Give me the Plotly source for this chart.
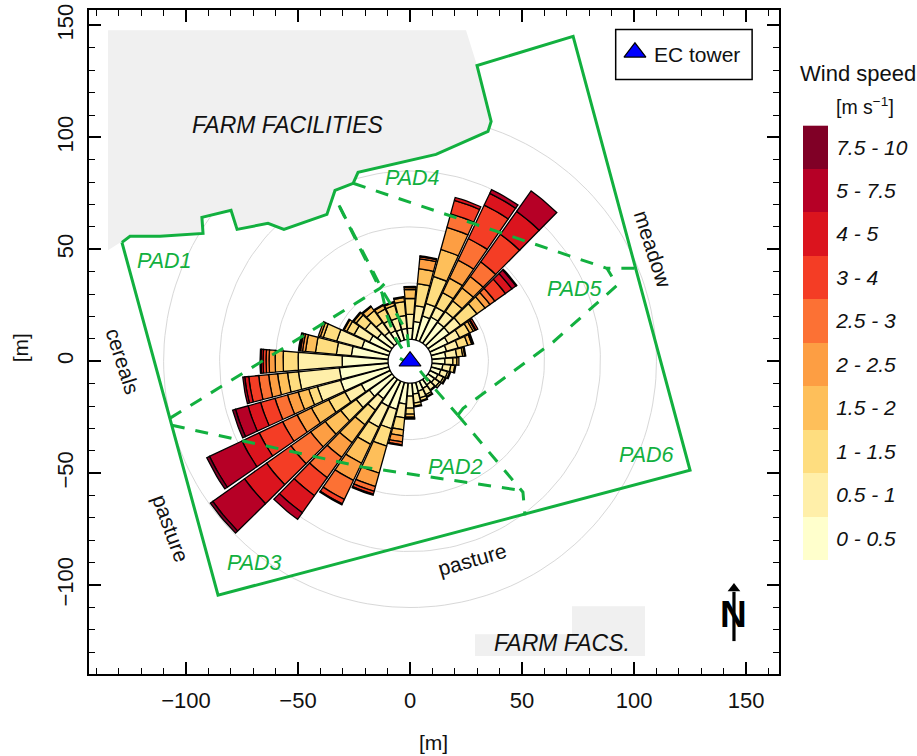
import numpy as np
import plotly.graph_objects as go

# ---------- data ----------
speed_classes = ["0 - 0.5", "0.5 - 1", "1 - 1.5", "1.5 - 2", "2 - 2.5", "2.5 - 3", "3 - 4", "4 - 5", "5 - 7.5", "7.5 - 10"]
class_colors = ["#FFFFCC", "#FFEFA9", "#FEDD7F", "#FEBF5A", "#FD9E43", "#FC7134", "#F43D25", "#DB141E", "#B60026", "#800026"]

# cumulative outer edge of every speed class, per wind direction (rose units, hole edge = 22)
d000 = [33, 47, 63, 72, 74, 75]
d010 = [40, 56, 78, 93, 103, 105, 106]
d020 = [47, 60, 88, 116, 139, 153, 167, 170]
d030 = [49, 60, 76, 92, 112, 136, 173, 186, 190]
d040 = [48, 61, 74, 90, 104, 122, 156, 184, 209]
d050 = [48, 62, 82, 92, 98, 104, 117, 125, 130, 131]
d060 = [42, 55, 66, 70, 72, 73, 75]
d070 = [38, 50, 60, 64, 65, 66]
d080 = [36, 47, 53, 55, 56]
d090 = [35, 43, 47, 49]
d100 = [33, 41, 45, 46]
d110 = [32, 39, 41, 42]
d120 = [31, 37, 39, 40]
d130 = [30, 36, 38]
d140 = [29, 35, 36]
d150 = [30, 37, 39, 40]
d160 = [31, 38, 41, 42]
d170 = [33, 42, 45, 46]
d180 = [35, 47, 53, 56, 57, 58]
d190 = [43, 57, 69, 75, 81, 84, 85]
d200 = [50, 70, 88, 116, 130, 135, 138, 139]
d210 = [50, 73, 92, 113, 132, 153, 158, 159]
d220 = [46, 60, 78, 100, 118, 143, 165, 186, 194]
d230 = [50, 66, 85, 104, 122, 146, 176, 203, 242, 245]
d240 = [54, 72, 90, 109, 125, 141, 167, 186, 222, 225]
d250 = [72, 96, 105, 116, 127, 140, 155, 168, 181, 184]
d260 = [71, 112, 123, 133, 142, 152, 162, 166, 168]
d270 = [68, 112, 127, 135, 141, 144, 147, 149, 150]
d280 = [59, 74, 95, 105, 108, 110, 111, 112]
d290 = [50, 76, 90, 93, 95]
d300 = [45, 62, 70, 73, 74]
d310 = [40, 55, 66, 69, 70]
d320 = [36, 48, 62, 67, 68]
d330 = [34, 46, 58, 62, 63]
d340 = [33, 45, 58, 61, 62]
d350 = [33, 46, 60, 64, 65]
directions = list(range(0, 360, 10))
rose = [d000, d010, d020, d030, d040, d050, d060, d070, d080, d090, d100, d110,
        d120, d130, d140, d150, d160, d170, d180, d190, d200, d210, d220, d230,
        d240, d250, d260, d270, d280, d290, d300, d310, d320, d330, d340, d350]
rose_hole = 22
rose_unit_m = 1 / 2.24
sector_width = 9.2
grid_radii_m = [35, 60, 85, 110]

farm_x = [-134.8, 25, 29.9, 36.2, 34.8, 11.6, -23.2, -25.4, -33.5, -37.1, -56.3, -63.4, -77.2, -79.9, -92.9, -92.4, -125, -134.8]
farm_y = [147.8, 147.8, 132.1, 107.1, 102.7, 92.4, 84.4, 79.5, 76.3, 65.6, 58.9, 61.6, 58.9, 67.4, 64.3, 57.1, 55.8, 49.6]
facs_x = [29, 72.3, 72.3, 104.9, 104.9, 29]
facs_y = [-121.9, -121.9, -109.4, -109.4, -131.7, -131.7]

site_x = [-128.6, -125, -111.6, -92.4, -92.9, -79.9, -77.2, -63.4, -56.3, -37.1, -33.5, -25.4, -23.2, 11.6, 34.8, 36.2, 29.9, 72.8, 125, -85.7, -128.6]
site_y = [53.1, 55.8, 55.8, 57.1, 64.3, 67.4, 58.9, 61.6, 58.9, 65.6, 76.3, 79.5, 84.4, 92.4, 102.7, 107.1, 132.1, 145.1, -48.7, -104.5, 53.1]

pad_lines = [
    ([-31.7, -12.5, -10.3, -6.7, 0], [69.6, 30.4, 20.5, 10.7, 0]),
    ([-31.3, -11.6, -6.7, -1.3, 0], [68.8, 30.4, 22.3, 12.9, 0]),
    ([-4.5, 3.6, 8.9, 21.4], [1.3, -3.1, -9.8, -24.1]),
    ([21.4, 23.7, 63.8, 92.4, 87.9, 100.4], [-24.1, -21, 8.5, 33.9, 41.5, 41.5]),
    ([-25.4, 87.9], [79.5, 41.5]),
    ([-107.1, -13.4, -11.2], [-25.4, 32.6, 34.8]),
    ([-106.3, -21, 49.1], [-28.6, -47.3, -57.6]),
    ([21.4, 50.4, 51.3], [-24.1, -58.5, -68.8]),
]

pad_labels = [("PAD1", -109.4, 44.6), ("PAD2", 20.5, -47.3), ("PAD3", -69.6, -90.2),
              ("PAD4", 0.9, 81.7), ("PAD5", 73.7, 32.1), ("PAD6", 105.4, -42)]
land_labels = [("meadow", 108.5, 50, 72), ("cereals", -128.1, 0, 72),
               ("pasture", -106.7, -74.6, 70), ("pasture", 27.7, -88.4, -16)]
x_ticks = [-100, -50, 0, 50, 100, 150]
y_ticks = [-100, -50, 0, 50, 100, 150]

FONT = "Liberation Sans, Arial, sans-serif"
GREEN = "#12B03F"
W, H = 917, 756
TOP, BOTTOM = 9.5, 674   # plot frame, px from the top of the page


def paper_y(py):
    return (BOTTOM - py) / (BOTTOM - TOP)


fig = go.Figure()

# grid circles
for r in grid_radii_m:
    t = np.radians(np.arange(0, 361, 2))
    fig.add_trace(go.Scatter(x=r * np.sin(t), y=r * np.cos(t), mode="lines",
                             line=dict(color="#D8D8D8", width=1), hoverinfo="skip", showlegend=False))

# grey farm areas
for xs, ys in ((farm_x, farm_y), (facs_x, facs_y)):
    fig.add_trace(go.Scatter(x=xs, y=ys, mode="lines", fill="toself", fillcolor="#F0F0F0",
                             line=dict(width=0, color="#F0F0F0"), hoverinfo="skip", showlegend=False))

# site boundary
fig.add_trace(go.Scatter(x=site_x, y=site_y, mode="lines", line=dict(color=GREEN, width=3),
                         hoverinfo="skip", showlegend=False))

# wind rose: one polygon per class and direction
for k, col in enumerate(class_colors):
    px, py = [], []
    for d, edges in zip(directions, rose):
        if k >= len(edges):
            continue
        inner = rose_hole if k == 0 else edges[k - 1]
        outer = edges[k]
        th = np.radians(np.linspace(d - sector_width / 2, d + sector_width / 2, 8))
        r0, r1 = inner * rose_unit_m, outer * rose_unit_m
        xs = np.r_[r0 * np.sin(th), r1 * np.sin(th[::-1]), r0 * np.sin(th[0])]
        ys = np.r_[r0 * np.cos(th), r1 * np.cos(th[::-1]), r0 * np.cos(th[0])]
        px += list(xs) + [None]
        py += list(ys) + [None]
    fig.add_trace(go.Scatter(x=px, y=py, mode="lines", fill="toself", fillcolor=col,
                             line=dict(color="black", width=1.3), hoverinfo="skip", showlegend=False))

# paddock dashes
for xs, ys in pad_lines:
    fig.add_trace(go.Scatter(x=xs, y=ys, mode="lines",
                             line=dict(color=GREEN, width=3, dash="13px,11px"),
                             hoverinfo="skip", showlegend=False))

# tower and legend marker
fig.add_trace(go.Scatter(x=[0, 100.4], y=[0, 138], mode="markers",
                         marker=dict(symbol="triangle-up", size=19, color="#0000FF",
                                     line=dict(color="black", width=1.2)),
                         hoverinfo="skip", showlegend=False))

# north arrow
fig.add_trace(go.Scatter(x=[144.6, 144.6], y=[-125, -103], mode="lines",
                         line=dict(color="black", width=3.2), hoverinfo="skip", showlegend=False))
fig.add_trace(go.Scatter(x=[144.6], y=[-101.5], mode="markers",
                         marker=dict(symbol="triangle-up", size=11, color="black"),
                         hoverinfo="skip", showlegend=False))

# colour key as heatmap on its own axes
fig.add_trace(go.Heatmap(z=[[i] for i in range(10)], x=[0], y=speed_classes,
                         xaxis="x2", yaxis="y2", zmin=-0.5, zmax=9.5, showscale=False,
                         colorscale=[[v, class_colors[int(i // 2)]] for i, v in
                                     enumerate(np.repeat(np.arange(11) / 10, 2)[1:-1])],
                         hoverinfo="skip"))

ann = []
ann.append(dict(text="<i>FARM FACILITIES</i>", x=-54.5, y=105.4, font=dict(size=23, color="#111")))
ann.append(dict(text="<i>FARM FACS.</i>", x=67.9, y=-125.9, font=dict(size=23, color="#111")))
ann.append(dict(text="EC tower", x=128.1, y=137, font=dict(size=21, color="#111")))
for t, x, y in pad_labels:
    ann.append(dict(text=f"<i>{t}</i>", x=x, y=y, font=dict(size=21.5, color=GREEN)))
for t, x, y, a in land_labels:
    ann.append(dict(text=t, x=x, y=y, textangle=a, font=dict(size=21, color="#111")))
ann.append(dict(text="<b>N</b>", x=144.6, y=-113, font=dict(size=37, color="black")))
for a in ann:
    a.update(xref="x", yref="y", showarrow=False, xanchor="center", yanchor="middle")
for text, px_x, px_y, size, angle in (("Wind speed", 858, 73, 22, 0),
                                      ("[m s<sup>−1</sup>]", 865, 106, 19.5, 0),
                                      ("[m]", 433, 743, 21, 0),
                                      ("[m]", 20, 348, 21, -90)):
    ann.append(dict(text=text, x=px_x / W, y=paper_y(px_y), xref="paper", yref="paper", showarrow=False,
                    xanchor="center", yanchor="middle", textangle=angle,
                    font=dict(size=size, color="#111")))

shapes = [dict(type="rect", xref="x", yref="y", x0=91.8, x1=152.7, y0=125.9, y1=148.2,
               line=dict(color="black", width=1.5), fillcolor="rgba(0,0,0,0)")]

axis_common = dict(showgrid=False, zeroline=False, showline=True, linecolor="black", linewidth=2.2,
                   mirror="ticks", ticks="inside", ticklen=12, tickwidth=1.5, tickcolor="black",
                   ticklabelstandoff=5,
                   minor=dict(dtick=10, ticks="inside", ticklen=6, tickwidth=1.3, tickcolor="black", showgrid=False),
                   tickfont=dict(size=22, color="#111", family=FONT))

fig.update_layout(
    width=W, height=H, autosize=False, paper_bgcolor="white", plot_bgcolor="white",
    margin=dict(l=0, r=0, t=TOP, b=H - BOTTOM, pad=0), showlegend=False, font=dict(family=FONT),
    xaxis=dict(domain=[89 / W, 779 / W], range=[-143.3, 164.7], tickmode="array", tickvals=x_ticks, **axis_common),
    yaxis=dict(domain=[0, 1], range=[-139.7, 156.9], tickmode="array", tickvals=y_ticks,
               tickangle=-90, **axis_common),
    xaxis2=dict(domain=[803 / W, 828 / W], anchor="y2", showticklabels=False, ticks="", showgrid=False,
                zeroline=False, showline=False),
    yaxis2=dict(domain=[paper_y(560), paper_y(125)], anchor="x2", side="right", type="category",
                categoryorder="array", categoryarray=speed_classes,
                showgrid=False, zeroline=False, showline=False, ticks="outside", ticklen=3,
                tickcolor="rgba(0,0,0,0)", tickfont=dict(size=21, color="#111", family=FONT, style="italic")),
    annotations=ann, shapes=shapes,
)

fig.write_html("out.html", config={"displayModeBar": False}, post_script="document.body.style.margin='0';")
